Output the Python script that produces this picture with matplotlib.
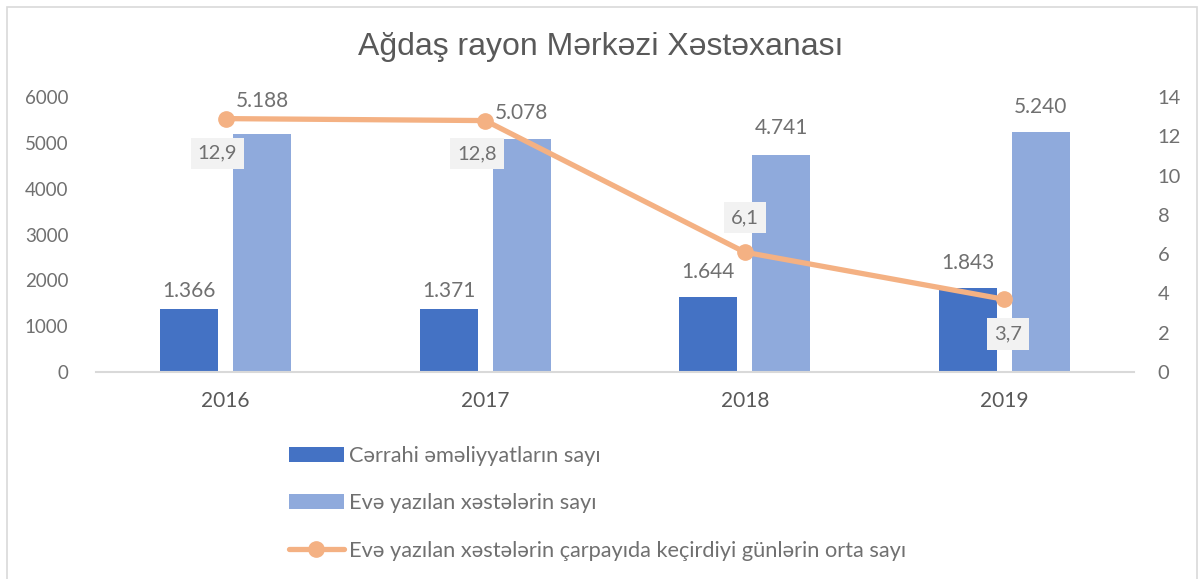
import numpy as np
import matplotlib
matplotlib.use("Agg")
import matplotlib.pyplot as plt
from matplotlib.patches import Rectangle

years = ["2016", "2017", "2018", "2019"]
surgeries = [1366, 1371, 1644, 1843]
discharged = [5188, 5078, 4741, 5240]
bed_days = [12.9, 12.8, 6.1, 3.7]

surg_labels = ["1.366", "1.371", "1.644", "1.843"]
disch_labels = ["5.188", "5.078", "4.741", "5.240"]
days_labels = ["12,9", "12,8", "6,1", "3,7"]

legend_names = [
    "Cərrahi əməliyyatların sayı",
    "Evə yazılan xəstələrin sayı",
    "Evə yazılan xəstələrin çarpayıda keçirdiyi günlərin orta sayı",
]

DARK = "#4472C4"
LIGHT = "#8FAADC"
ORANGE = "#F4B183"
GRAY = "#595959"
LBL = "#707070"

plt.rcParams["font.family"] = ["Lato", "DejaVu Sans"]

fig = plt.figure(figsize=(12.02, 5.79), dpi=100)
fig.patches.append(Rectangle((7 / 1202, -0.05), 1190 / 1202, 1.05 - 7 / 579,
                             transform=fig.transFigure, fill=False,
                             edgecolor="#d9d9d9", linewidth=1.2))

ax = fig.add_axes([96 / 1202, 207 / 579, 1038 / 1202, 275 / 579])
x = np.arange(len(years))
w = 0.224
off = 0.141

b1 = ax.bar(x - off, surgeries, w, color=DARK, label=legend_names[0])
b2 = ax.bar(x + off, discharged, w, color=LIGHT, label=legend_names[1])

# gap (points) between bar top and label centre, as placed in the original
dark_gap = [13, 13, 18, 18]
light_gap = [24, 19, 19, 18]
for xi, v, s, g in zip(x, surgeries, surg_labels, dark_gap):
    ax.annotate(s, (xi - off, v), xytext=(0, g), textcoords="offset points",
                ha="center", va="center", fontsize=15, color=LBL)
for xi, v, s, g in zip(x, discharged, disch_labels, light_gap):
    ax.annotate(s, (xi + off, v), xytext=(0, g), textcoords="offset points",
                ha="center", va="center", fontsize=15, color=LBL)

ax.set_xlim(-0.5, 3.5)
ax.set_ylim(0, 6000)
ax.set_yticks(range(0, 6001, 1000))
ax.set_xticks(x)
ax.set_xticklabels(years)
ax.tick_params(axis="y", length=0, labelsize=13.5, colors=LBL, pad=20)
ax.tick_params(axis="x", length=0, labelsize=15, colors=GRAY, pad=14)
for sp in ["top", "left", "right"]:
    ax.spines[sp].set_visible(False)
ax.spines["bottom"].set_color("#d9d9d9")
ax.spines["bottom"].set_linewidth(1.5)

ax2 = ax.twinx()
ln, = ax2.plot(x, bed_days, color=ORANGE, linewidth=3.8, marker="o",
               markersize=11, label=legend_names[2], solid_capstyle="round")
ax2.set_ylim(0, 14)
ax2.set_yticks(range(0, 15, 2))
ax2.tick_params(axis="y", length=0, labelsize=14.5, colors=LBL, pad=17)
for sp in ["top", "left", "right", "bottom"]:
    ax2.spines[sp].set_visible(False)

# label offsets (points) relative to each marker
offsets = [(-6, -25), (-6, -24), (0, 25), (3, -25)]
for xi, v, s, (dx, dy) in zip(x, bed_days, days_labels, offsets):
    ax2.annotate(s, (xi, v), xytext=(dx, dy), textcoords="offset points",
                 ha="center", va="center", fontsize=14.5, color=LBL,
                 bbox=dict(boxstyle="square,pad=0.35", fc="#f2f2f2", ec="none"))

fig.text(0.5, 0.918, "Ağdaş rayon Mərkəzi Xəstəxanası", ha="center", va="center",
         fontsize=23, color=GRAY, family=["Liberation Sans", "DejaVu Sans"])

fig.legend([b1, b2, ln], legend_names, loc="upper left",
           bbox_to_anchor=(289 / 1202, 1 - 446 / 579), frameon=False,
           fontsize=15.7, labelcolor=LBL, handlelength=2.5, handleheight=0.65,
           handletextpad=0.23, labelspacing=1.25, borderaxespad=0, borderpad=0)

fig.savefig("out.png", dpi=100)
